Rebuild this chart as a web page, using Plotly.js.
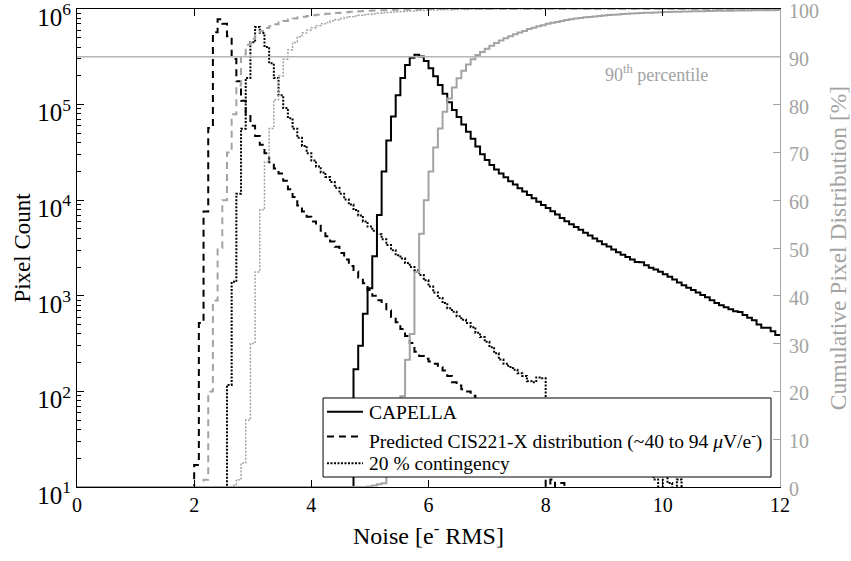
<!DOCTYPE html>
<html>
<head>
<meta charset="utf-8">
<script src="https://cdn.plot.ly/plotly-3.0.1.min.js"></script>
<style>html,body{margin:0;padding:0;background:#fff;}#chart{width:851px;height:561px;}</style>
</head>
<body>
<div id="chart"></div>
<script>
// ---- data (histogram bins of 0.08 e- RMS) ----
const BIN = 0.08;

// CAPELLA pixel counts, first bin starts at 4.72
const capellaStart = 4.72;
const capellaCounts = [171, 300, 650, 1200, 2600, 7000, 20000, 42000, 75000, 125000,
  190000, 260000, 310000, 332000, 318000, 285000, 240000, 198000, 160000, 130000,
  106000, 88000, 74000, 62000, 52000, 44000, 36500,
  30200, 26300, 23400, 20900, 19000, 17400, 15800, 14600, 13300, 12300,
  11350, 10500, 9660, 8900, 8300, 7670, 7080, 6530, 6030, 5600,
  5250, 4900, 4570, 4270, 3980, 3720, 3470, 3270, 3050, 2850,
  2690, 2540, 2400, 2260, 2240, 2090, 1970, 1880, 1780, 1680,
  1585, 1480, 1380, 1290, 1215, 1150, 1085, 1020, 966, 900,
  840, 795, 760, 725, 690, 675, 630, 590, 555, 500,
  462, 462, 427, 390];

// Predicted CIS221-X pixel counts, first bin starts at 2.00
const predStart = 2.00;
const predCounts = [17, 520, 7600, 57000, 570000, 780000, 700000, 520000, 300000, 175000,
  110000, 78000, 60000, 47000, 38000, 31000, 25000, 21500, 19000, 16000,
  13000, 10800, 8800, 7600, 6700, 6000, 5400, 4800, 4200, 3700,
  3250, 2800, 2400, 2050, 1800, 1550, 1350, 1150, 1000, 900,
  820, 700, 600, 530, 450, 380, 320, 260, 235, 220,
  205, 195, 180, 165, 145, 125, 115, 105, 100, 90,
  80, 70, 62, 55, 48, 42, 37, 32, 28, 24,
  21, 18, 16, 14, 13, 5, 12, 5, 11, 5];

// 20 % contingency pixel counts, first bin starts at 2.56
const contStart = 2.56;
const contCounts = [117, 1400, 11700, 56000, 190000, 450000, 650000, 560000, 400000, 270000,
  190000, 125000, 92000, 72000, 56000, 45000, 37000, 31000, 26000, 22500,
  19500, 17500, 15500, 13500, 11700, 10200, 9000, 7900, 6900, 6000,
  5300, 4800, 4400, 3900, 3400, 3000, 2650, 2450, 2200, 2000,
  1850, 1650, 1450, 1250, 1080, 950, 840, 740, 680, 610,
  560, 520, 470, 410, 370, 330, 290, 250, 215, 195,
  180, 168, 155, 145, 128, 125, 140, 137, 60, 55,
  50, 46, 42, 38, 35, 32, 30, 28, 26, 24,
  22, 21, 20, 19, 18, 17, 16, 15, 15, 14,
  14, 12, 5, 13, 11, 5, 12, 5];

// Cumulative pixel distributions [%]
const capellaCumStart = 4.96;
const capellaCum = [0.1, 0.3, 0.6, 0.8, 2.5, 6, 12, 19, 26.6, 32,
  45, 53, 60, 66, 71, 75, 78.5, 81.3, 83.6, 85.5,
  87.1, 88.4, 89.5, 90.4,
  91.0, 91.7, 92.3, 92.9, 93.4, 93.9, 94.3, 94.7, 95.1, 95.4,
  95.8, 96.1, 96.4, 96.6, 96.9, 97.1, 97.3, 97.5, 97.7, 97.85,
  98.0, 98.1, 98.25, 98.35, 98.45, 98.55, 98.65, 98.72, 98.8, 98.87,
  98.94, 99.0, 99.06, 99.11, 99.16, 99.2, 99.24, 99.28, 99.32, 99.35,
  99.38, 99.41, 99.44, 99.47, 99.49, 99.51, 99.53, 99.55, 99.57, 99.59,
  99.61, 99.63, 99.64, 99.66, 99.67, 99.69, 99.70, 99.71, 99.72, 99.73,
  99.74, 99.75, 99.76, 99.77];

const predCumStart = 2.16;
const predCum = [1.5, 20, 39, 50, 60, 70, 78, 84, 90.5, 92.5,
  93.8, 94.8, 95.4, 96.0, 96.4, 96.8, 97.2, 97.5, 97.8, 98.0,
  98.2, 98.4, 98.55, 98.7, 98.8, 98.9, 99.0, 99.08, 99.16, 99.24,
  99.32, 99.4, 99.46, 99.52, 99.58, 99.63, 99.68, 99.72, 99.76, 99.8,
  99.83, 99.86, 99.88, 99.9, 99.92, 99.94, 99.96, 99.98, 100];

const contCumStart = 2.64;
const contCum = [0.3, 1.5, 5, 14, 30, 45, 58, 68, 75, 81,
  86, 89.5, 91.5, 93, 94.2, 95.0, 95.6, 96.1, 96.5, 96.9,
  97.2, 97.5, 97.75, 98.0, 98.2, 98.4, 98.55, 98.7, 98.8, 98.9,
  99.0, 99.1, 99.2, 99.28, 99.35, 99.42, 99.48, 99.54, 99.6, 99.65,
  99.7, 99.74, 99.78, 99.8, 99.82, 99.84, 99.86, 99.88, 99.9, 99.91,
  99.92, 99.93, 99.94, 99.95, 99.96, 99.97, 99.98, 99.99, 100];

const PERCENTILE = 90;
const X_MAX = 12;
const COUNT_FLOOR = 1;   // below the 10^1 axis floor

const xTickVals = [0, 2, 4, 6, 8, 10, 12];
const yTickVals = [1e1, 1e2, 1e3, 1e4, 1e5, 1e6];
const yTickText = ['10<sup>1</sup>', '10<sup>2</sup>', '10<sup>3</sup>', '10<sup>4</sup>', '10<sup>5</sup>', '10<sup>6</sup>'];
const y2TickVals = [0, 10, 20, 30, 40, 50, 60, 70, 80, 90, 100];

const seriesNames = ['CAPELLA',
  'Predicted CIS221-X distribution (~40 to 94 <i>μ</i>V/e<sup>-</sup>)',
  '20 % contingency'];

// ---- helpers: histogram bins -> stair points ----
function histSteps(start, vals) {
  const x = [start - BIN], y = [COUNT_FLOOR];
  vals.forEach((v, i) => { x.push(+(start + i * BIN).toFixed(4)); y.push(v); });
  x.push(+(start + vals.length * BIN).toFixed(4)); y.push(vals[vals.length - 1]);
  return {x, y};
}
function cumSteps(start, vals) {
  const x = [0], y = [0];
  vals.forEach((v, i) => { x.push(+(start + i * BIN).toFixed(4)); y.push(v); });
  x.push(X_MAX); y.push(vals[vals.length - 1]);
  return {x, y};
}
// minor log ticks 2..9 x 10^n
const minorVals = [];
for (let d = 1; d < 6; d++) for (let k = 2; k <= 9; k++) minorVals.push(k * Math.pow(10, d));

const GRAY = '#a3a3a3';
const DASH = '7px,5px';
const DOT = '2px,1.5px';
const hc = histSteps(capellaStart, capellaCounts);
const hp = histSteps(predStart, predCounts);
const ht = histSteps(contStart, contCounts);
const cc = cumSteps(capellaCumStart, capellaCum);
const cp = cumSteps(predCumStart, predCum);
const ct = cumSteps(contCumStart, contCum);

const styles = [
  {color: 'black', width: 2},
  {color: 'black', width: 2, dash: DASH},
  {color: 'black', width: 2, dash: DOT}
];

const traces = [
  {x: hc.x, y: hc.y, name: seriesNames[0], type: 'scatter', mode: 'lines', line: Object.assign({shape: 'hv'}, styles[0]), yaxis: 'y', showlegend: false},
  {x: hp.x, y: hp.y, name: seriesNames[1], type: 'scatter', mode: 'lines', line: Object.assign({shape: 'hv'}, styles[1]), yaxis: 'y', showlegend: false},
  {x: ht.x, y: ht.y, name: seriesNames[2], type: 'scatter', mode: 'lines', line: Object.assign({shape: 'hv'}, styles[2]), yaxis: 'y', showlegend: false},
  {x: cc.x, y: cc.y, name: 'CAPELLA cumulative', showlegend: false, type: 'scatter', mode: 'lines', line: {shape: 'hv', color: GRAY, width: 2}, yaxis: 'y2'},
  {x: cp.x, y: cp.y, name: 'Predicted cumulative', showlegend: false, type: 'scatter', mode: 'lines', line: {shape: 'hv', color: GRAY, width: 2, dash: DASH}, yaxis: 'y2'},
  {x: ct.x, y: ct.y, name: 'Contingency cumulative', showlegend: false, type: 'scatter', mode: 'lines', line: {shape: 'hv', color: GRAY, width: 1.5, dash: DOT}, yaxis: 'y2'}
];

// ---- legend box (drawn in paper coordinates, MATLAB style spacing) ----
const LEG = {x0: 0.35, x1: 0.9872, y0: 0.0209, y1: 0.1862,
             sx0: 0.3556, sx1: 0.4068, tx: 0.4125,
             sampleY: [0.1575, 0.1055, 0.0495], textY: [0.1565, 0.0970, 0.0485]};
const shapes = [
  {type: 'line', xref: 'paper', x0: 0, x1: 1, yref: 'y2', y0: PERCENTILE, y1: PERCENTILE,
   line: {color: '#b5b5b5', width: 1.5}},
  {type: 'rect', xref: 'paper', yref: 'paper', x0: LEG.x0, x1: LEG.x1, y0: LEG.y0, y1: LEG.y1,
   fillcolor: 'white', line: {color: 'black', width: 1}, layer: 'above'}
];
const annotations = [
  {xref: 'x', yref: 'y2', x: 9.9, y: PERCENTILE - 3.4, text: '90<sup>th</sup> percentile',
   showarrow: false, font: {size: 18, color: GRAY}}
];
seriesNames.forEach((nm, i) => {
  shapes.push({type: 'line', xref: 'paper', yref: 'paper', x0: LEG.sx0, x1: LEG.sx1,
               y0: LEG.sampleY[i], y1: LEG.sampleY[i], line: styles[i], layer: 'above'});
  annotations.push({xref: 'paper', yref: 'paper', x: LEG.tx, y: LEG.textY[i], xanchor: 'left', yanchor: 'middle',
                    text: nm, showarrow: false, font: {size: 19.5, color: 'black'}});
});

const layout = {
  width: 851, height: 561,
  margin: {l: 77, r: 71, t: 9, b: 74, pad: 0},
  paper_bgcolor: 'white', plot_bgcolor: 'white',
  font: {family: "'Liberation Serif', 'Times New Roman', serif", color: 'black', size: 20},
  showlegend: false,
  xaxis: {range: [0, X_MAX], tickvals: xTickVals, ticks: 'inside', ticklen: 7, tickcolor: 'black',
          showline: true, linecolor: 'black', linewidth: 1, mirror: 'ticks', showgrid: false, zeroline: false,
          ticklabeloverflow: 'allow',
          tickfont: {size: 20}, title: {text: 'Noise [e<sup>-</sup> RMS]', font: {size: 24}, standoff: 12}},
  yaxis: {type: 'log', range: [1, 6], tickmode: 'array', tickvals: yTickVals, ticktext: yTickText,
          ticks: 'inside', ticklen: 7, tickcolor: 'black', showline: true, linecolor: 'black', linewidth: 1,
          showgrid: false, zeroline: false, tickfont: {size: 25}, ticklabeloverflow: 'allow', ticklabelshift: 8,
          minor: {tickmode: 'array', tickvals: minorVals, ticks: 'inside', ticklen: 4, tickcolor: 'black', showgrid: false},
          title: {text: 'Pixel Count', font: {size: 23}, standoff: 0}},
  yaxis2: {overlaying: 'y', side: 'right', range: [0, 100], tickvals: y2TickVals, ticks: 'inside', ticklen: 7,
           tickcolor: GRAY, showline: true, linecolor: GRAY, linewidth: 1, showgrid: false, zeroline: false,
           tickfont: {size: 20, color: GRAY}, ticklabeloverflow: 'allow', ticklabelshift: 2, ticklabelstandoff: 4,
           title: {text: 'Cumulative Pixel Distribution [%]', font: {size: 23.5, color: GRAY}, standoff: 23}},
  shapes: shapes,
  annotations: annotations
};

Plotly.newPlot('chart', traces, layout, {displayModeBar: false, staticPlot: true});
</script>
</body>
</html>
